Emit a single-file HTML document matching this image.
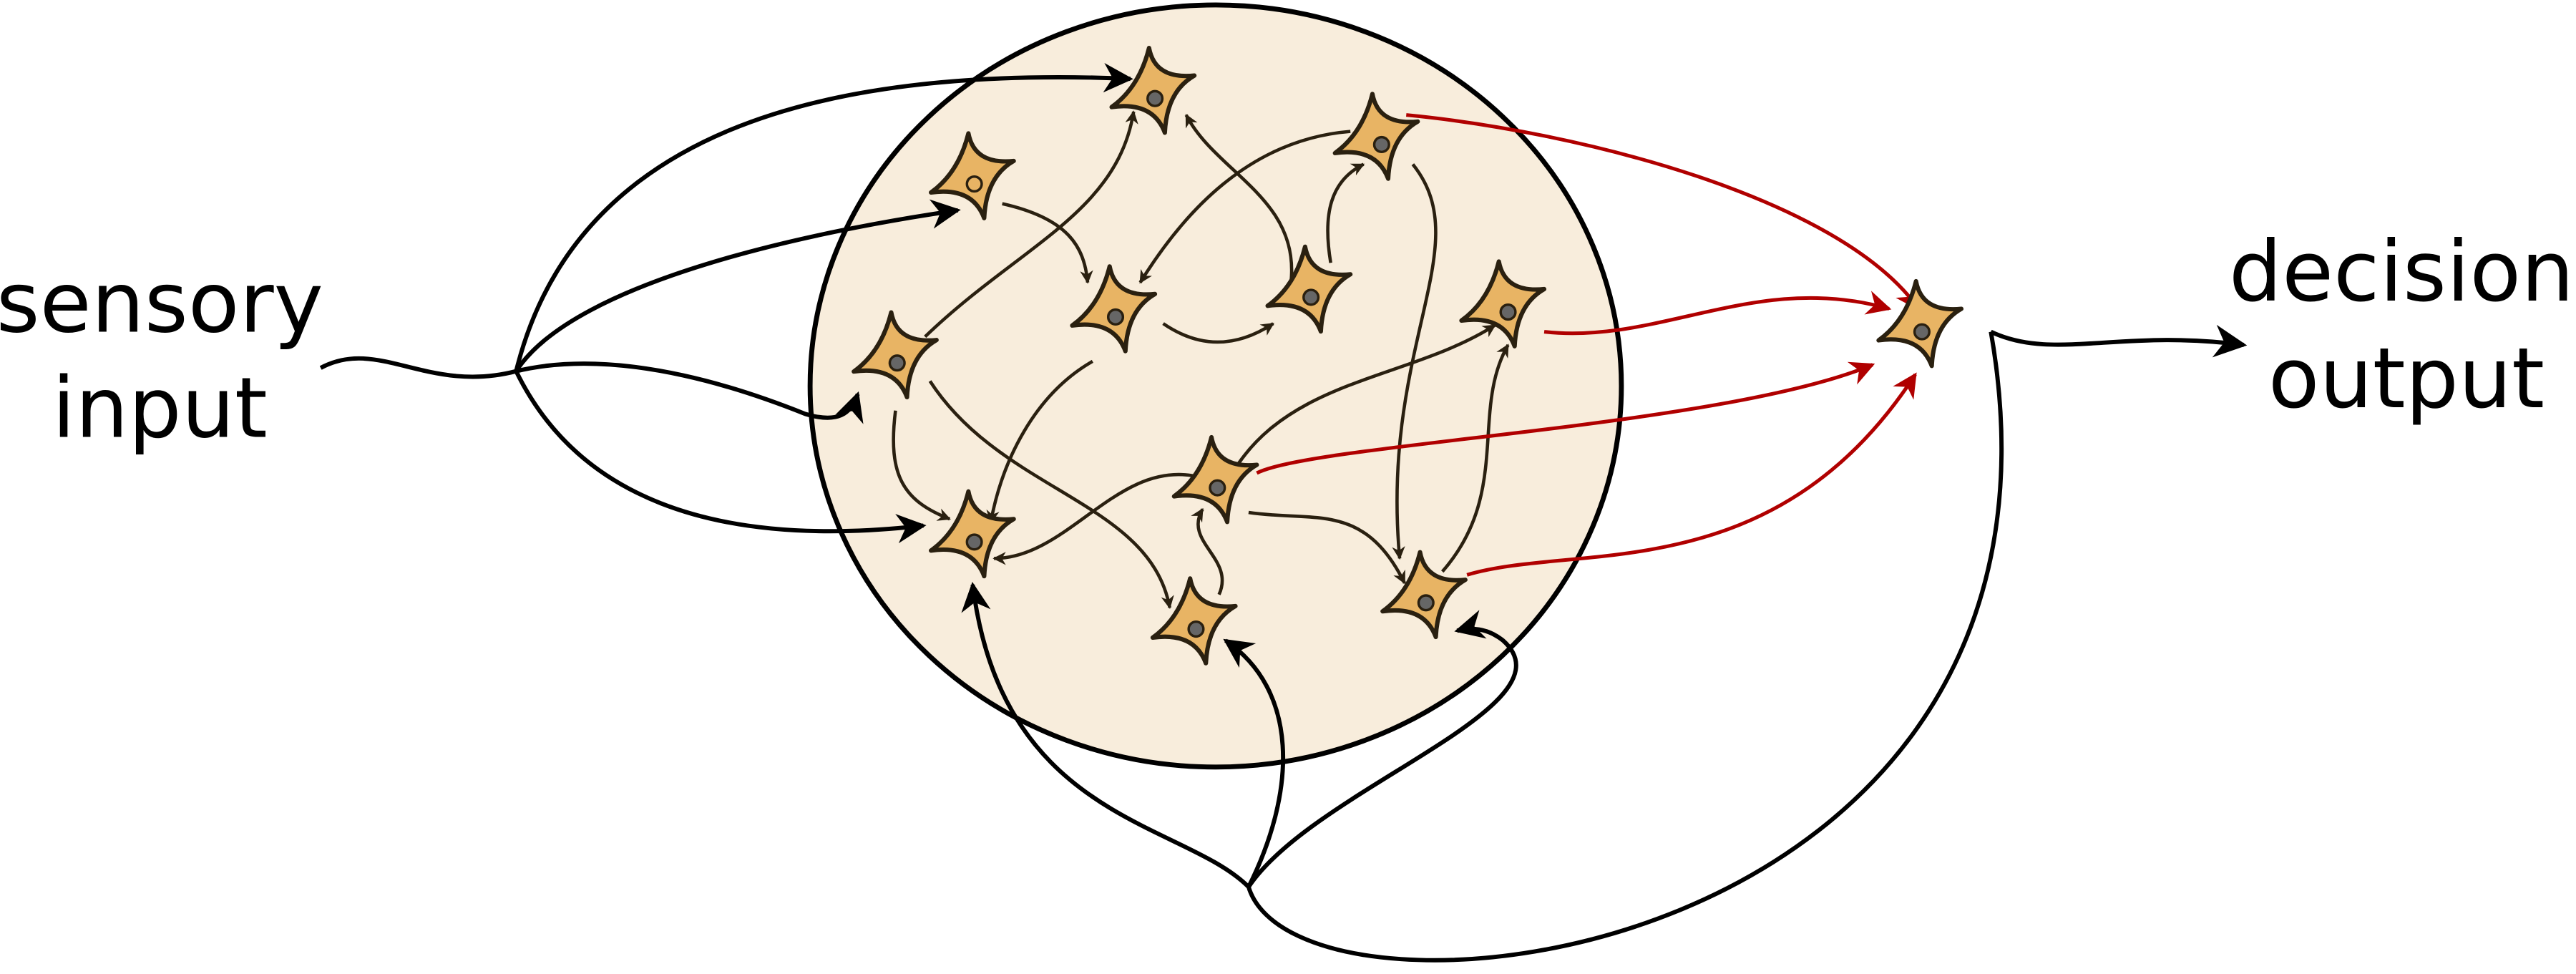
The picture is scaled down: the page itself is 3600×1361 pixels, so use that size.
<!DOCTYPE html>
<html><head><meta charset="utf-8"><style>
html,body{margin:0;padding:0;background:#fff}
svg{display:block}
text{font-family:"DejaVu Sans","Liberation Sans",sans-serif;fill:#000}
</style></head><body>
<svg width="3600" height="1361" viewBox="0 0 1568 593">
<defs>
<marker id="ab" viewBox="0 0 10 10" refX="9" refY="5" markerWidth="9" markerHeight="8" orient="auto" markerUnits="userSpaceOnUse"><path d="M0,0 L10,5 L0,10 L3,5Z" fill="#2a2010"/></marker>
<marker id="abig" viewBox="0 0 10 10" refX="9" refY="5" markerWidth="32" markerHeight="20" orient="auto" markerUnits="userSpaceOnUse"><path d="M0,0 L10,5 L0,10 L3,5Z" fill="#000"/></marker>
<marker id="ar" viewBox="0 0 10 10" refX="9" refY="5" markerWidth="18" markerHeight="15" orient="auto" markerUnits="userSpaceOnUse"><path d="M0,0 L10,5 L0,10 L3,5Z" fill="#b00000"/></marker>
<marker id="am" viewBox="0 0 10 10" refX="9" refY="5" markerWidth="26" markerHeight="18" orient="auto" markerUnits="userSpaceOnUse"><path d="M0,0 L10,5 L0,10 L3,5Z" fill="#000"/></marker>
<path id="neuron" transform="scale(1.2)" d="M-3,-24 Q0,-8 20,-10 Q6,-2 5,19 Q-1,3 -22,6 Q-8,-4 -3,-24 Z" fill="#e8b464" stroke="#2a2010" stroke-width="2.2" stroke-linejoin="round"/>
</defs>

<ellipse cx="740" cy="235" rx="247" ry="232" fill="#f8eddc" stroke="#000" stroke-width="3"/>

<text x="97" y="202" font-size="51" text-anchor="middle">sensory</text>
<text x="97" y="266" font-size="51" text-anchor="middle">input</text>
<text x="1462" y="183" font-size="51" text-anchor="middle">decision</text>
<text x="1465" y="248" font-size="51" text-anchor="middle">output</text>

<g fill="none" stroke="#000" stroke-width="2.6">
<path d="M195,224 C230,205 260,240 314,226"/>
<path d="M314,226 C350,80 500,40 688,48" marker-end="url(#am)"/>
<path d="M314,226 C350,170 500,140 583,128" marker-end="url(#am)"/>
<path d="M314,226 C380,210 460,240 490,252 C510,258 518,252 522,240" marker-end="url(#am)"/>
<path d="M314,226 C350,300 430,335 562,320" marker-end="url(#am)"/>
</g>

<g fill="none" stroke="#2a2010" stroke-width="2">
<path d="M563,205 C620,150 680,130 690,68" marker-end="url(#ab)"/>
<path d="M610,124 C650,133 660,150 662,172" marker-end="url(#ab)"/>
<path d="M545,250 C540,290 550,305 578,316" marker-end="url(#ab)"/>
<path d="M566,232 C610,300 700,305 712,370" marker-end="url(#ab)"/>
<path d="M665,220 C630,240 610,280 603,318" marker-end="url(#ab)"/>
<path d="M708,197 C730,212 752,212 775,197" marker-end="url(#ab)"/>
<path d="M822,80 C760,85 720,130 694,172" marker-end="url(#ab)"/>
<path d="M786,170 C790,120 740,105 722,70" marker-end="url(#ab)"/>
<path d="M810,160 C805,130 810,110 830,100" marker-end="url(#ab)"/>
<path d="M860,100 C900,150 840,210 852,340" marker-end="url(#ab)"/>
<path d="M754,282 C790,230 860,230 910,198" marker-end="url(#ab)"/>
<path d="M878,348 C920,300 895,250 918,210" marker-end="url(#ab)"/>
<path d="M728,290 C680,280 650,340 605,340" marker-end="url(#ab)"/>
<path d="M760,312 C800,318 830,305 855,355" marker-end="url(#ab)"/>
<path d="M742,362 C752,340 720,330 732,310" marker-end="url(#ab)"/>
</g>

<g fill="none" stroke="#b00000" stroke-width="2.2">
<path d="M856,70 C960,80 1120,120 1168,188" marker-end="url(#ar)"/>
<path d="M940,202 C1010,210 1070,165 1150,188" marker-end="url(#ar)"/>
<path d="M765,288 C800,270 1050,260 1140,222" marker-end="url(#ar)"/>
<path d="M893,350 C960,330 1080,360 1166,228" marker-end="url(#ar)"/>
</g>

<g fill="none" stroke="#000" stroke-width="2.6">
<path d="M1212,202 C1250,220 1290,200 1366,210" marker-end="url(#abig)"/>
<path d="M1212,202 C1280,590 790,640 760,540"/>
<path d="M760,540 C720,500 610,500 592,356" marker-end="url(#am)"/>
<path d="M760,540 C790,480 790,420 746,390" marker-end="url(#am)"/>
<path d="M760,540 C800,480 960,430 915,390 C905,382 895,382 887,384" marker-end="url(#am)"/>
</g>

<g>
<use href="#neuron" x="703" y="58"/><circle cx="703" cy="60" r="4.5" fill="#666" stroke="#2a2010" stroke-width="1.5"/>
<use href="#neuron" x="593" y="110"/><circle cx="593" cy="112" r="4.5" fill="#e8b464" stroke="#2a2010" stroke-width="1.5"/>
<use href="#neuron" x="679" y="191"/><circle cx="679" cy="193" r="4.5" fill="#666" stroke="#2a2010" stroke-width="1.5"/>
<use href="#neuron" x="546" y="219"/><circle cx="546" cy="221" r="4.5" fill="#666" stroke="#2a2010" stroke-width="1.5"/>
<use href="#neuron" x="798" y="179"/><circle cx="798" cy="181" r="4.5" fill="#666" stroke="#2a2010" stroke-width="1.5"/>
<use href="#neuron" x="839" y="86"/><circle cx="841" cy="88" r="4.5" fill="#666" stroke="#2a2010" stroke-width="1.5"/>
<use href="#neuron" x="916" y="188"/><circle cx="918" cy="190" r="4.5" fill="#666" stroke="#2a2010" stroke-width="1.5"/>
<use href="#neuron" x="741" y="295"/><circle cx="741" cy="297" r="4.5" fill="#666" stroke="#2a2010" stroke-width="1.5"/>
<use href="#neuron" x="593" y="328"/><circle cx="593" cy="330" r="4.5" fill="#666" stroke="#2a2010" stroke-width="1.5"/>
<use href="#neuron" x="728" y="381"/><circle cx="728" cy="383" r="4.5" fill="#666" stroke="#2a2010" stroke-width="1.5"/>
<use href="#neuron" x="868" y="365"/><circle cx="868" cy="367" r="4.5" fill="#666" stroke="#2a2010" stroke-width="1.5"/>
</g>
<g>
<use href="#neuron" x="1170" y="200"/><circle cx="1170" cy="202" r="4.5" fill="#666" stroke="#2a2010" stroke-width="1.5"/>
</g>
</svg>
</body></html>
